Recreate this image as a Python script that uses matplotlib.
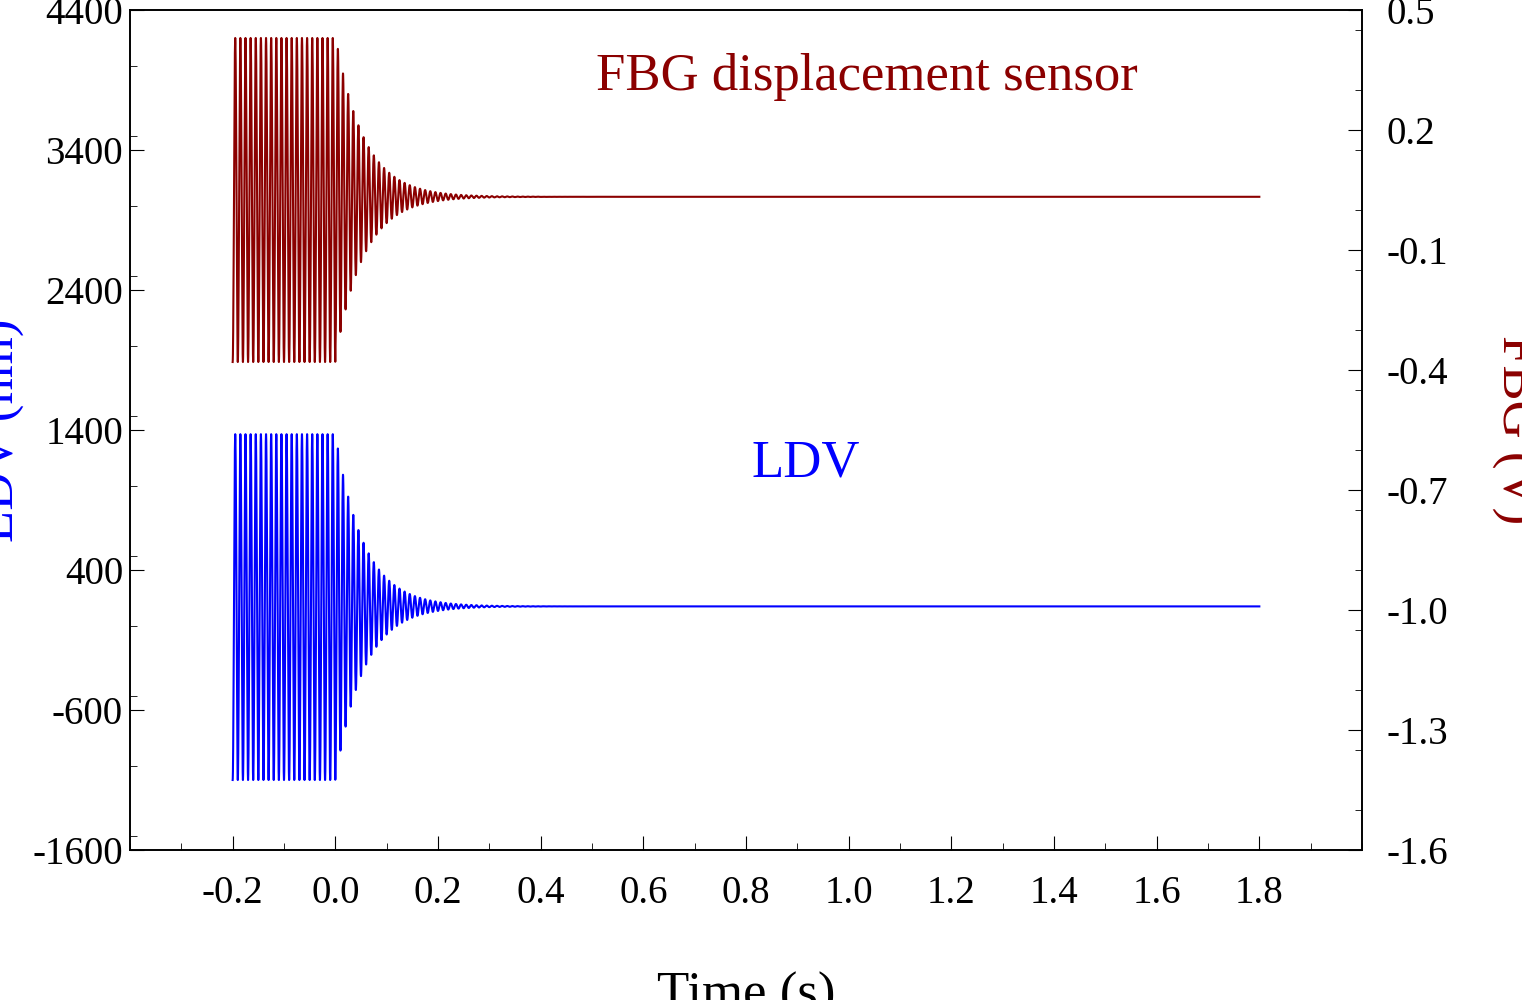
import numpy as np
import matplotlib
matplotlib.use('Agg')
import matplotlib.pyplot as plt
from matplotlib.ticker import MultipleLocator

plt.rcParams['font.family'] = 'Liberation Serif'
plt.rcParams['axes.unicode_minus'] = False

# signal parameters
t_start, t_release, t_end = -0.2, 0.0, 1.8
freq_hz = 100.0
decay_tau = 0.055
ldv_center = [135.0, 140.0]      # before / after release (nm)
ldv_amp = 1235.0                 # nm
fbg_center = [0.025, 0.033]      # V
fbg_amp = 0.405                  # V
x_ticks = [-0.2, 0.0, 0.2, 0.4, 0.6, 0.8, 1.0, 1.2, 1.4, 1.6, 1.8]
left_ticks = [-1600, -600, 400, 1400, 2400, 3400, 4400]
right_ticks = [-1.6, -1.3, -1.0, -0.7, -0.4, -0.1, 0.2, 0.5]

t = np.linspace(t_start, t_end, 20000)
env = np.where(t < t_release, 1.0, np.exp(-(t - t_release) / decay_tau))
wave = np.sin(2 * np.pi * freq_hz * (t - t_start) - np.pi / 2)
ldv = np.where(t < t_release, ldv_center[0], ldv_center[1]) + ldv_amp * env * wave
fbg = np.where(t < t_release, fbg_center[0], fbg_center[1]) + fbg_amp * env * wave

fig = plt.figure(figsize=(15.22, 10), dpi=100)
ax = fig.add_axes([130 / 1522, 150 / 1000, 1232 / 1522, 840 / 1000])
ax2 = ax.twinx()

ax.plot(t, ldv, color='#0000ff', lw=1.5)
ax2.plot(t, fbg, color='#8b0000', lw=1.5)

ax.set_xlim(-0.4, 2.0)
ax.set_ylim(-1600, 4400)
ax2.set_ylim(-1.6, 0.5)
ax.set_xticks(x_ticks)
ax.set_xticklabels([f'{v:.1f}' for v in x_ticks])
ax.xaxis.set_minor_locator(MultipleLocator(0.1))
ax.set_yticks(left_ticks)
ax.yaxis.set_minor_locator(MultipleLocator(500))
ax2.set_yticks(right_ticks)
ax2.set_yticklabels([f'{v:.1f}' for v in right_ticks])
ax2.yaxis.set_minor_locator(MultipleLocator(0.15))

for a in (ax, ax2):
    a.tick_params(which='both', direction='in', labelsize=28, pad=5)
    a.tick_params(which='major', length=10)
    a.tick_params(which='minor', length=5)
    for s in a.spines.values():
        s.set_linewidth(1.2)
ax.tick_params(axis='x', pad=18)
ax2.tick_params(axis='y', pad=18)

ax.set_xlabel('Time (s)', fontsize=38)
ax.xaxis.set_label_coords(0.5, -0.145)
ax.set_ylabel('LDV (nm)', fontsize=38, color='#0000ff')
ax.yaxis.set_label_coords(-0.085, 0.5)
ax2.set_ylabel('FBG (V)', fontsize=38, color='#8b0000', rotation=-90, va='bottom')
ax2.yaxis.set_label_coords(1.105, 0.5)

ax.text(1.036, 3920, 'FBG displacement sensor', fontsize=38, color='#8b0000', ha='center', va='center')
ax.text(0.917, 1160, 'LDV', fontsize=38, color='#0000ff', ha='center', va='center')

fig.savefig('out.png', dpi=100)
